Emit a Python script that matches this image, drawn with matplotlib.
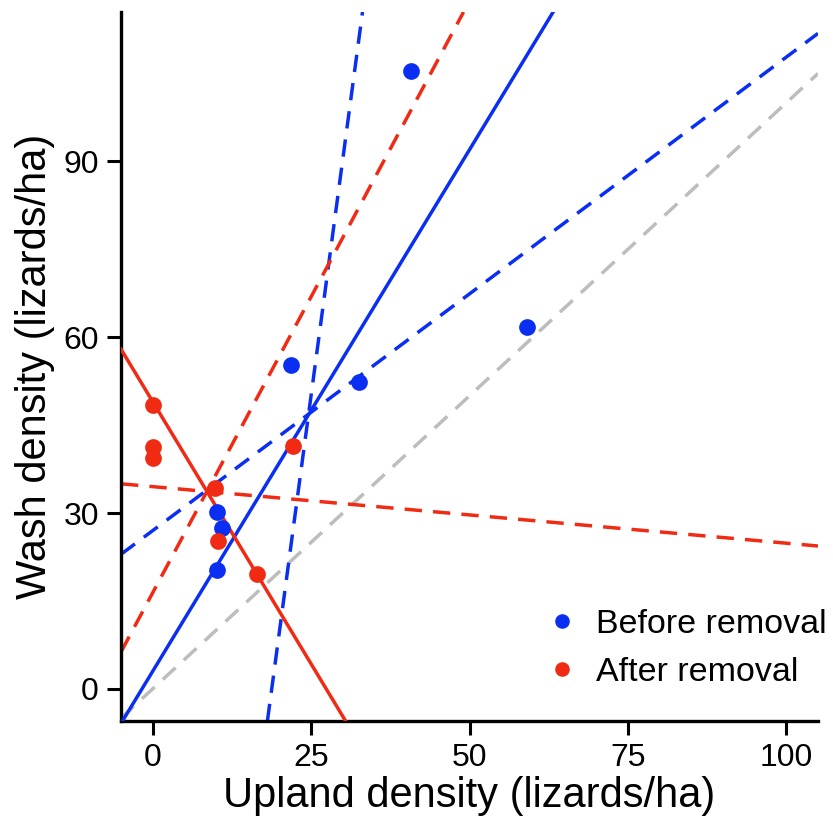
import matplotlib
matplotlib.use("Agg")
import matplotlib.pyplot as plt
from matplotlib.lines import Line2D

plt.rcParams['font.family'] = ['Liberation Sans', 'DejaVu Sans']

# Data
before_x = [40.7, 59.1, 21.9, 32.6, 10.2, 11.0, 10.2]
before_y = [105.5, 61.8, 55.3, 52.4, 30.2, 27.5, 20.3]
after_x = [0.0, 0.0, 0.0, 22.2, 9.9, 10.3, 16.4]
after_y = [48.5, 41.3, 39.4, 41.4, 34.3, 25.3, 19.6]

# Fitted lines: (intercept, slope)
before_fit = (3.0, 1.78)
before_bounds = [(-151.4, 8.06), (27.0, 0.808)]
after_fit = (49.0, -1.79)
after_bounds = [(16.4, 2.02), (34.5, -0.0965)]
identity = (0.0, 1.0)

xticks = [0, 25, 50, 75, 100]
yticks = [0, 30, 60, 90]

blue = '#0B2FF2'
red = '#F12A14'
gray = '#BDBDBD'

fig = plt.figure(figsize=(8.33, 8.25), dpi=100)
ax = fig.add_axes([0.1453, 0.126, 0.8367, 0.8595])
ax.set_xlim(-5, 105)
ax.set_ylim(-5.5, 115.5)

lw = 2.5
dash = (5.0, 3.2)
ax.axline((0, identity[0]), slope=identity[1], color=gray, lw=lw, dashes=dash, zorder=1)
for b, m in before_bounds:
    ax.axline((0, b), slope=m, color=blue, lw=lw, dashes=dash, zorder=2)
for b, m in after_bounds:
    ax.axline((0, b), slope=m, color=red, lw=lw, dashes=dash, zorder=2)
ax.axline((0, before_fit[0]), slope=before_fit[1], color=blue, lw=lw, zorder=3)
ax.axline((0, after_fit[0]), slope=after_fit[1], color=red, lw=lw, zorder=3)

ax.scatter(before_x, before_y, s=145, color=blue, zorder=4, linewidths=0)
ax.scatter(after_x, after_y, s=145, color=red, zorder=4, linewidths=0)

for s in ['top', 'right']:
    ax.spines[s].set_visible(False)
for s in ['left', 'bottom']:
    ax.spines[s].set_linewidth(2.4)

ax.set_xticks(xticks)
ax.set_yticks(yticks)
ax.tick_params(axis='both', length=10, width=2.2, labelsize=23, pad=6)
ax.set_xlabel('Upland density (lizards/ha)', fontsize=30, labelpad=2)
ax.set_ylabel('Wash density (lizards/ha)', fontsize=30, labelpad=6)

handles = [Line2D([], [], ls='none', marker='o', ms=10.5, color=blue, mec='none'),
           Line2D([], [], ls='none', marker='o', ms=10.5, color=red, mec='none')]
ax.legend(handles, ['Before removal', 'After removal'], loc='lower right',
          bbox_to_anchor=(1.056, 0.003), frameon=False, fontsize=24.5,
          handletextpad=0.4, labelspacing=0.5, handlelength=1.2)

fig.savefig('out.png', dpi=100)
